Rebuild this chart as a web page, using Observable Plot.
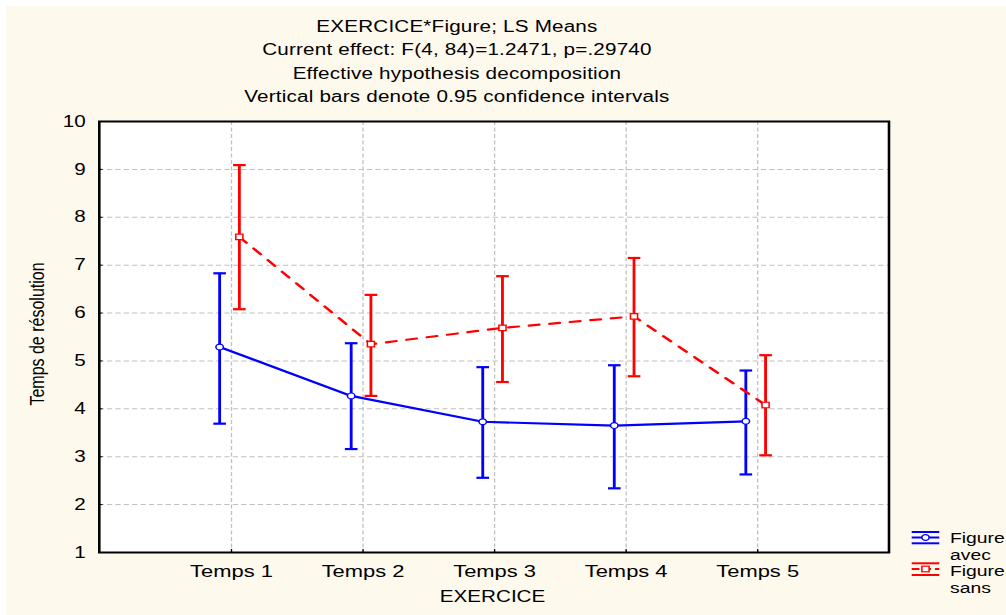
<!DOCTYPE html>
<html><head><meta charset="utf-8">
<script src="https://cdn.jsdelivr.net/npm/d3@7"></script>
<script src="https://cdn.jsdelivr.net/npm/@observablehq/plot@0.6"></script>
<style>
html,body{margin:0;padding:0;background:#fff;}
#page{position:relative;width:1006px;height:615px;overflow:hidden;background:#fff;}
#cream{position:absolute;left:6px;top:6px;right:0;bottom:0;background:#FEF9ED;}
#wrap{position:absolute;left:0;top:0;width:780px;height:615px;transform:scaleX(1.2897);transform-origin:0 0;font-family:"Liberation Sans",Arial,sans-serif;color:#000;}
#chart{position:absolute;left:0;top:0;}
#title{position:absolute;left:0;top:15px;width:708.6px;text-align:center;font-size:16px;line-height:23.3px;letter-spacing:0.15px;}
#ylabel{position:absolute;left:29.1px;top:334px;font-size:16px;line-height:16px;white-space:nowrap;transform:translate(-50%,-50%) rotate(-90deg);}
#xlabel{position:absolute;left:0;width:763.8px;top:589.2px;text-align:center;font-size:16px;line-height:16px;}
#legend{position:absolute;left:0;top:0;overflow:visible;}
</style></head>
<body>
<div id="page"><div id="cream"></div><div id="wrap">
<div id="chart"></div>
<div id="title"><div>EXERCICE*Figure; LS Means</div><div>Current effect: F(4, 84)=1.2471, p=.29740</div><div>Effective hypothesis decomposition</div><div>Vertical bars denote 0.95 confidence intervals</div></div>
<div id="ylabel">Temps de résolution</div>
<div id="xlabel">EXERCICE</div>
<svg id="legend" width="780" height="615" font-family="Liberation Sans, Arial, sans-serif" font-size="15">
  <g stroke="#0000ff" stroke-width="2">
    <line x1="706.9" x2="728.3" y1="532" y2="532"/>
    <line x1="706.9" x2="728.3" y1="537.5" y2="537.5"/>
    <line x1="706.9" x2="728.3" y1="543.3" y2="543.3"/>
    <circle cx="717.6" cy="537.5" r="2.8" fill="#fff" stroke-width="1.2"/>
  </g>
  <g stroke="#ff0000" stroke-width="2">
    <line x1="706.9" x2="728.3" y1="563.3" y2="563.3"/>
    <line x1="706.9" x2="728.3" y1="569" y2="569" stroke-dasharray="6,3"/>
    <line x1="706.9" x2="728.3" y1="575" y2="575"/>
    <rect x="714.8" y="566.2" width="5.6" height="5.6" fill="#fff" stroke-width="1.2"/>
  </g>
  <g fill="#000">
    <text x="736.6" y="543.3">Figure</text>
    <text x="736.6" y="560">avec</text>
    <text x="736.6" y="576.3">Figure</text>
    <text x="736.6" y="592.7">sans</text>
  </g>
</svg>
</div></div>
<script>
const categories = ["Temps 1", "Temps 2", "Temps 3", "Temps 4", "Temps 5"];
const avecMean = [5.29, 4.27, 3.73, 3.65, 3.74];
const avecLow  = [3.69, 3.16, 2.56, 2.34, 2.63];
const avecHigh = [6.83, 5.37, 4.87, 4.91, 4.80];
const sansMean = [7.59, 5.35, 5.69, 5.93, 4.08];
const sansLow  = [6.08, 4.27, 4.56, 4.68, 3.03];
const sansHigh = [9.09, 6.38, 6.77, 7.15, 5.12];
const yTicks = [1, 2, 3, 4, 5, 6, 7, 8, 9, 10];
const yGrid = [2, 3, 4, 5, 6, 7, 8, 9];

const avec = categories.map((c, i) => ({cat: c, mean: avecMean[i], low: avecLow[i], high: avecHigh[i]}));
const sans = categories.map((c, i) => ({cat: c, mean: sansMean[i], low: sansLow[i], high: sansHigh[i]}));

// horizontal cap symbol for error bars (half-length = r)
const capSymbol = {
  draw(context, size) {
    const w = Math.sqrt(size / Math.PI);
    context.moveTo(-w, 0);
    context.lineTo(w, 0);
  }
};

const BLUE = "#0000ff", RED = "#ff0000";
function series(data, color, dx, dash, symbol, r) {
  const lw = 2.2;
  return [
    Plot.line(data, {x: "cat", y: "mean", dx, stroke: color, strokeWidth: lw, strokeDasharray: dash}),
    Plot.ruleX(data, {x: "cat", y1: "low", y2: "high", dx, stroke: color, strokeWidth: lw}),
    Plot.dot(data, {x: "cat", y: "low", dx, r: 4.9, symbol: capSymbol, fill: "none", stroke: color, strokeWidth: lw}),
    Plot.dot(data, {x: "cat", y: "high", dx, r: 4.9, symbol: capSymbol, fill: "none", stroke: color, strokeWidth: lw}),
    Plot.dot(data, {x: "cat", y: "mean", dx, r, symbol, fill: "white", stroke: color, strokeWidth: 1.2})
  ];
}

const chart = Plot.plot({
  width: 780,
  height: 615,
  marginLeft: 76.5,
  marginRight: 91.2,
  marginTop: 121,
  marginBottom: 63,
  style: {background: "transparent", fontFamily: "Liberation Sans, Arial, sans-serif", fontSize: "16px", color: "#000", overflow: "visible"},
  x: {type: "point", domain: categories, padding: 1, label: null},
  y: {domain: [1, 10], label: null},
  marks: [
    Plot.frame({fill: "white"}),
    Plot.gridX(categories, {stroke: "#c0c0c0", strokeOpacity: 1, strokeDasharray: "4,2.5"}),
    Plot.gridY(yGrid, {stroke: "#c0c0c0", strokeOpacity: 1, strokeDasharray: "4,2.5"}),
    Plot.frame({stroke: "black", strokeWidth: 2}),
    Plot.axisY(yTicks, {tickSize: -3, tickPadding: 13.6, fontSize: 16, label: null}),
    Plot.axisX({tickSize: -3, tickPadding: 15, fontSize: 17, label: null}),
    ...series(avec, BLUE, -9.2, null, "circle", 2.9),
    ...series(sans, RED, 6.1, "8,8", "square", 3.1)
  ]
});
document.getElementById("chart").appendChild(chart);
</script>
</body></html>
